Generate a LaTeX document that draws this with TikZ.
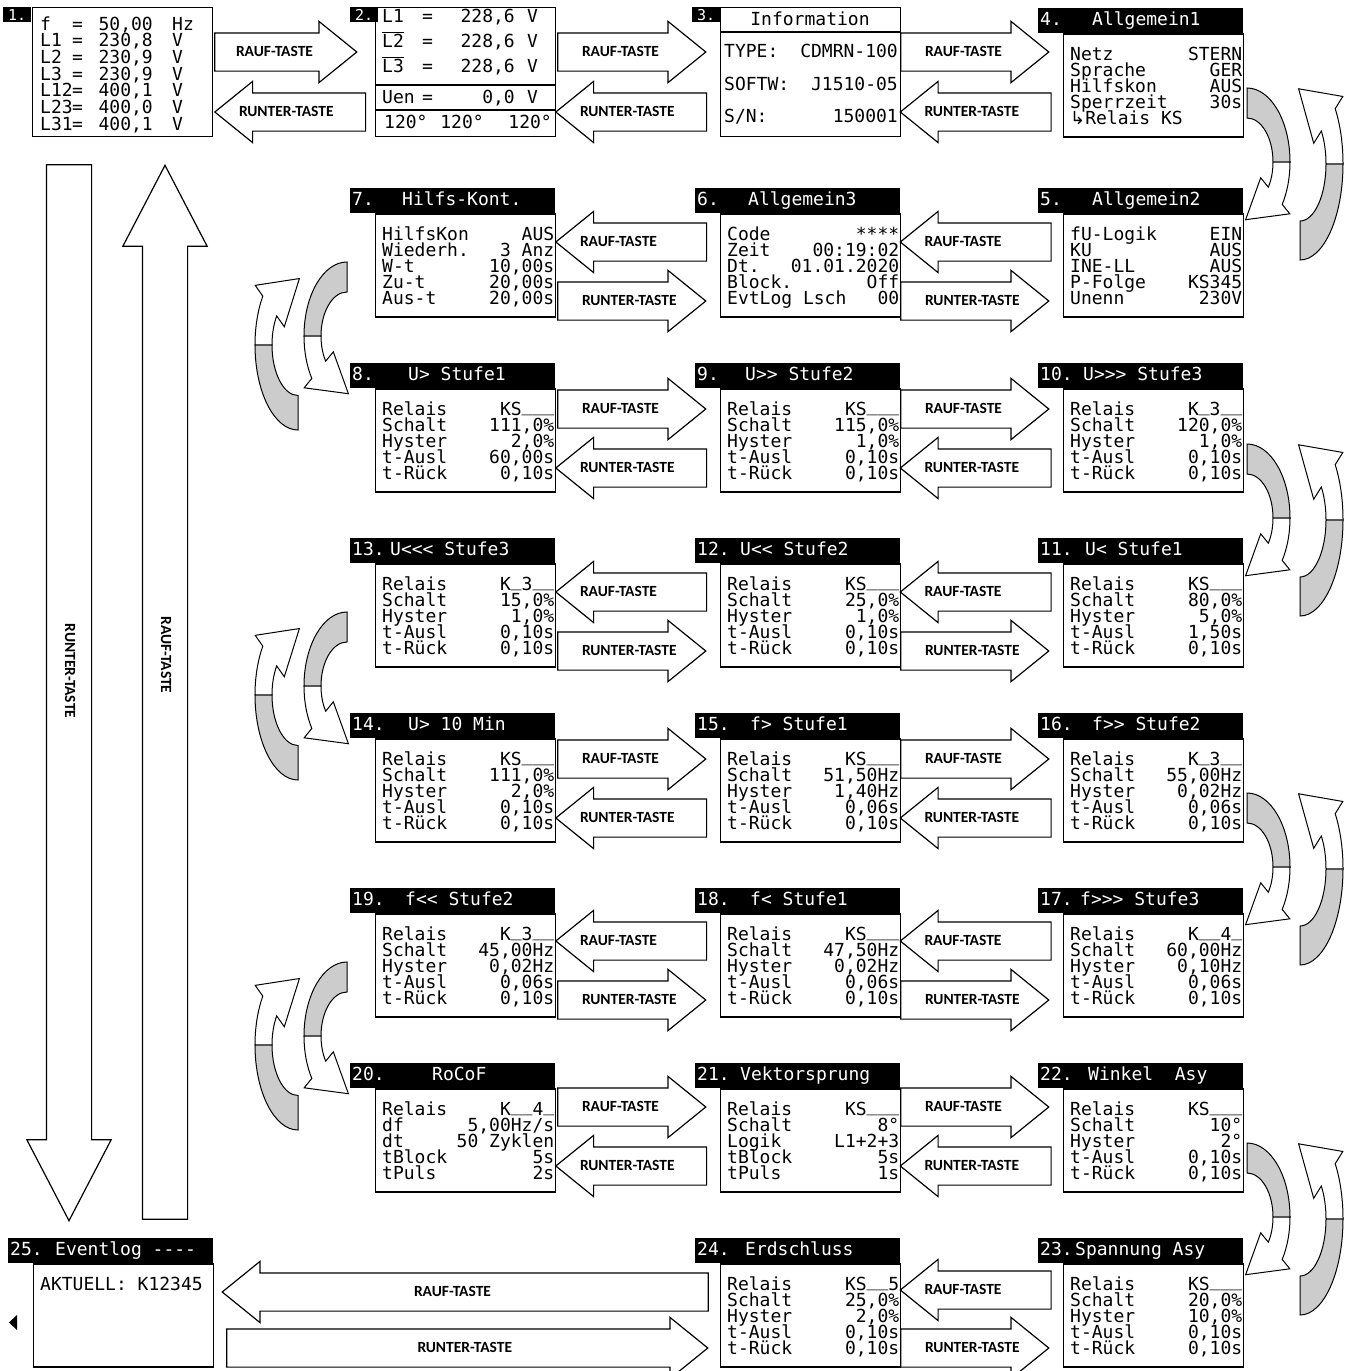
\documentclass[tikz,border=0pt]{standalone}
\usepackage{fontspec}
\newfontfamily\lcdfont{DejaVu Sans Mono}
\newfontfamily\symbfont{DejaVu Sans}
\newfontfamily\tastefont{Carlito}
\usetikzlibrary{shapes.arrows, calc}
\frenchspacing
\newcommand\us{\raisebox{3.5pt}{\_}}
\newcommand\tright[1]{\makebox[76pt][l]{#1}}
\newcommand\tleft[1]{\makebox[126pt][l]{#1}}

% LCD screen with title bar: name, x, y, number, title offset, title, rows
\newcommand\lcdscreen[7]{%
  \node[titlebar] (#1t) at (#2,#3) {};
  \node[lcdhead] (#1n) at ($(#1t.west)+(2,0)$) {#4};
  \node[lcdhead] (#1h) at ($(#1t.west)+(#5,0)$) {#6};
  \node[lcdbody] (#1) at ($(#1t.south west)+(25,0)$) {};
  \foreach \rlab/\rval [count=\i] in {#7} {
    \node[lcdtext, anchor=west] (#1l\i) at ($(#1.north west)+(7,{6+16*\i})$) {\rlab};
    \node[lcdtext, anchor=east] (#1v\i) at ($(#1.north east)+(-2,{6+16*\i})$) {\rval};
  }%
}

\begin{document}
\begin{tikzpicture}
  [x=1pt, y=-1pt,
   titlebar/.style={anchor=north west, fill=black, minimum width=205pt, minimum height=25pt, inner sep=0pt},
   lcdbody/.style={anchor=north west, draw, line width=1.4pt, minimum width=180pt, minimum height=103pt, inner sep=0pt},
   lcdtext/.style={font=\lcdfont\fontsize{18}{16}\selectfont, inner sep=0pt, text height=13pt, text depth=3pt},
   lcdhead/.style={lcdtext, text=white, anchor=west},
   numbox/.style={anchor=north west, fill=black, text=white, minimum width=28pt, minimum height=15pt, inner sep=0pt,
                  font=\lcdfont\fontsize{15}{15}\selectfont, text height=11pt, text depth=0pt},
   taste/.style={single arrow, draw, line width=1.2pt, fill=white, minimum width=60pt, single arrow head extend=11.5pt,
                 single arrow tip angle=78, inner xsep=0pt, inner ysep=11.5pt, text height=11pt, text depth=3pt,
                 font=\tastefont\bfseries\fontsize{15.5}{16}\selectfont},
   tasteleft/.style={taste, shape border rotate=180},
   bigtaste/.style={taste, minimum width=83pt, inner ysep=15pt, single arrow head extend=19.5pt, single arrow tip angle=55},
   bend/.pic={
     \filldraw[fill=black!20, line width=1pt] (0,0) .. controls (23.7,0) and (43,33.1) .. (43,74)
       -- (26,74) .. controls (26,49.7) and (14.4,30) .. (0,30) -- cycle;
     \filldraw[fill=white, line width=1pt] (43,74) .. controls (43,89.2) and (40.3,104) .. (35.2,116.4)
       -- (42.8,125.8) -- (-1.4,131.7) -- (13.7,89.8) -- (21.3,99.2)
       .. controls (24.4,91.8) and (26,83) .. (26,74) -- cycle;
   }]
  \useasboundingbox (0,0) rectangle (1347,1371);

  % screen 1
  \node[numbox] (s1n) at (3,7) {1.};
  \node[lcdbody, minimum height=129pt] (s1) at (32,7) {};
  \foreach \nm/\wert/\unit [count=\i] in {f/{50,00}/Hz, L1/{230,8}/V, L2/{230,9}/V, L3/{230,9}/V,
                                          L12/{400,1}/V, L23/{400,0}/V, L31/{400,1}/V} {
    \node[lcdtext, anchor=west] (s1a\i) at (40,{25+16.7*(\i-1)}) {\nm};
    \node[lcdtext, anchor=west] (s1b\i) at (72,{25+16.7*(\i-1)}) {=};
    \node[lcdtext, anchor=east] (s1c\i) at (153,{25+16.7*(\i-1)}) {\wert};
    \node[lcdtext, anchor=west] (s1d\i) at (172,{25+16.7*(\i-1)}) {\unit};
  }

  % screen 2
  \node[numbox] (s2n) at (350,7) {2.};
  \node[lcdbody, minimum height=129pt] (s2) at (375,7) {};
  \draw[line width=1.4pt] ($(s2.north west)+(0,78)$) -- ($(s2.north east)+(0,78)$);
  \draw[line width=1.4pt] ($(s2.north west)+(0,103)$) -- ($(s2.north east)+(0,103)$);
  \foreach \nm/\wert/\yy [count=\i] in {{\(\overline{\mbox{L1}}\)}/{228,6}/17, {\(\overline{\mbox{L2}}\)}/{228,6}/42,
                                        {\(\overline{\mbox{L3}}\)}/{228,6}/67, Uen/{0,0}/98} {
    \node[lcdtext, anchor=west] (s2a\i) at (382,\yy) {\nm};
    \node[lcdtext, anchor=west] (s2b\i) at (422,\yy) {=};
    \node[lcdtext, anchor=east] (s2c\i) at (515,\yy) {\wert};
    \node[lcdtext, anchor=west] (s2d\i) at (527,\yy) {V};
  }
  \node[lcdtext, anchor=west] (s2w1) at (384,123) {120°};
  \node[lcdtext] (s2w2) at (462,123) {120°};
  \node[lcdtext, anchor=east] (s2w3) at (552,123) {120°};

  % screen 3
  \node[numbox] (s3n) at (692,7) {3.};
  \node[lcdbody, minimum height=129pt] (s3) at (720,7) {};
  \draw[line width=1.4pt] ($(s3.north west)+(0,25)$) -- ($(s3.north east)+(0,25)$);
  \node[lcdtext] (s3h) at (810,20) {Information};
  \foreach \nm/\wert/\yy [count=\i] in {TYPE:/CDMRN-100/52, SOFTW:/J1510-05/85, S\slash N:/150001/117} {
    \node[lcdtext, anchor=west] (s3a\i) at (724,\yy) {\nm};
    \node[lcdtext, anchor=east] (s3b\i) at (898,\yy) {\wert};
  }

  % screens with title bar
  \lcdscreen{s4}{1038}{8}{4.}{54}{Allgemein1}{Netz/STERN, Sprache/GER, Hilfskon/AUS, Sperrzeit/30s, {{\symbfont ↳}Relais KS}/{}}
  \lcdscreen{s5}{1038}{188}{5.}{54}{Allgemein2}{fU-Logik/EIN, KU/AUS, INE-LL/AUS, P-Folge/KS345, Unenn/230V}
  \lcdscreen{s6}{695}{188}{6.}{53}{Allgemein3}{Code/****, Zeit/00:19:02, Dt./01.01.2020, Block./Off, EvtLog Lsch/00}
  \lcdscreen{s7}{350}{188}{7.}{52}{Hilfs-Kont.}{HilfsKon/AUS, Wiederh./3 Anz, W-t/{10,00s}, Zu-t/{20,00s}, Aus-t/{20,00s}}
  \lcdscreen{s8}{350}{363}{8.}{58}{U> Stufe1}{Relais/KS\us\us\us, Schalt/{111,0\%}, Hyster/{2,0\%}, t-Ausl/{60,00s}, t-Rück/{0,10s}}
  \lcdscreen{s9}{695}{363}{9.}{50}{U>> Stufe2}{Relais/KS\us\us\us, Schalt/{115,0\%}, Hyster/{1,0\%}, t-Ausl/{0,10s}, t-Rück/{0,10s}}
  \lcdscreen{s10}{1038}{363}{10.}{45}{U>>> Stufe3}{Relais/K\us3\us\us, Schalt/{120,0\%}, Hyster/{1,0\%}, t-Ausl/{0,10s}, t-Rück/{0,10s}}
  \lcdscreen{s11}{1038}{538}{11.}{47}{U< Stufe1}{Relais/KS\us\us\us, Schalt/{80,0\%}, Hyster/{5,0\%}, t-Ausl/{1,50s}, t-Rück/{0,10s}}
  \lcdscreen{s12}{695}{538}{12.}{45}{U<< Stufe2}{Relais/KS\us\us\us, Schalt/{25,0\%}, Hyster/{1,0\%}, t-Ausl/{0,10s}, t-Rück/{0,10s}}
  \lcdscreen{s13}{350}{538}{13.}{40}{U<<< Stufe3}{Relais/K\us3\us\us, Schalt/{15,0\%}, Hyster/{1,0\%}, t-Ausl/{0,10s}, t-Rück/{0,10s}}
  \lcdscreen{s14}{350}{713}{14.}{58}{U> 10 Min}{Relais/KS\us\us\us, Schalt/{111,0\%}, Hyster/{2,0\%}, t-Ausl/{0,10s}, t-Rück/{0,10s}}
  \lcdscreen{s15}{695}{713}{15.}{55}{f> Stufe1}{Relais/KS\us\us\us, Schalt/{51,50Hz}, Hyster/{1,40Hz}, t-Ausl/{0,06s}, t-Rück/{0,10s}}
  \lcdscreen{s16}{1038}{713}{16.}{54}{f>> Stufe2}{Relais/K\us3\us\us, Schalt/{55,00Hz}, Hyster/{0,02Hz}, t-Ausl/{0,06s}, t-Rück/{0,10s}}
  \lcdscreen{s17}{1038}{888}{17.}{42}{f>>> Stufe3}{Relais/K\us\us4\us, Schalt/{60,00Hz}, Hyster/{0,10Hz}, t-Ausl/{0,06s}, t-Rück/{0,10s}}
  \lcdscreen{s18}{695}{888}{18.}{55}{f< Stufe1}{Relais/KS\us\us\us, Schalt/{47,50Hz}, Hyster/{0,02Hz}, t-Ausl/{0,06s}, t-Rück/{0,10s}}
  \lcdscreen{s19}{350}{888}{19.}{55}{f<< Stufe2}{Relais/K\us3\us\us, Schalt/{45,00Hz}, Hyster/{0,02Hz}, t-Ausl/{0,06s}, t-Rück/{0,10s}}
  \lcdscreen{s20}{350}{1063}{20.}{82}{RoCoF}{Relais/K\us\us4\us, df/{5,00Hz/s}, dt/50 Zyklen, tBlock/5s, tPuls/2s}
  \lcdscreen{s21}{695}{1063}{21.}{45}{Vektorsprung}{Relais/KS\us\us\us, Schalt/8°, Logik/L1+2+3, tBlock/5s, tPuls/1s}
  \lcdscreen{s22}{1038}{1063}{22.}{50}{Winkel~~Asy}{Relais/KS\us\us\us, Schalt/10°, Hyster/2°, t-Ausl/{0,10s}, t-Rück/{0,10s}}
  \lcdscreen{s23}{1038}{1238}{23.}{37}{Spannung Asy}{Relais/KS\us\us\us, Schalt/{20,0\%}, Hyster/{10,0\%}, t-Ausl/{0,10s}, t-Rück/{0,10s}}
  \lcdscreen{s24}{695}{1238}{24.}{50}{Erdschluss}{Relais/KS\us\us5, Schalt/{25,0\%}, Hyster/{2,0\%}, t-Ausl/{0,10s}, t-Rück/{0,10s}}
  \lcdscreen{s25}{8}{1238}{25.}{47}{Eventlog ----}{{AKTUELL: K12345}/{}}
  \fill (17,1315) -- (17,1330) -- (9,1322.5) -- cycle;

  % key arrows, rows running right
  \node[taste, minimum height=142pt] (rauf-52-274) at (274,52) {\tright{RAUF-TASTE}};
  \node[tasteleft, minimum height=146pt] (runter-112-302) at (302,112) {\tleft{RUNTER-TASTE}};
  \foreach \ya/\yb in {52/112, 409/468, 759/818, 1107/1166}
    \foreach \xr/\xl in {620/643, 963/987.5} {
      \node[taste, minimum height=148pt] (rauf-\ya-\xr) at (\xr,\ya) {\tright{RAUF-TASTE}};
      \node[tasteleft, minimum height=146pt] (runter-\yb-\xl) at (\xl,\yb) {\tleft{RUNTER-TASTE}};
    }
  % rows running left
  \foreach \ya/\yb in {242/301, 592/651, 941/1000}
    \foreach \xr/\xl in {620/643, 963/987.5} {
      \node[tasteleft, minimum height=146pt] (rauf-\ya-\xl) at (\xl,\ya) {\tleft{RAUF-TASTE}};
      \node[taste, minimum height=148pt] (runter-\yb-\xr) at (\xr,\yb) {\tright{RUNTER-TASTE}};
    }
  \node[tasteleft, minimum height=146pt] (rauf-1290-987) at (987.5,1290) {\tleft{RAUF-TASTE}};
  \node[taste, minimum height=148pt] (runter-1348-963) at (963,1348) {\tright{RUNTER-TASTE}};
  \node[tasteleft, minimum height=486pt] (rauf-long) at (477,1292) {\tleft{RAUF-TASTE}};
  \node[taste, minimum height=481pt] (runter-long) at (455.5,1348) {\tright{RUNTER-TASTE}};

  % long arrows on the left
  \node[bigtaste, minimum height=1056pt, rotate=-90] (runter-big) at (69,671) {RUNTER-TASTE};
  \node[bigtaste, shape border rotate=180, minimum height=1054pt, rotate=-90] (rauf-big) at (165,714) {RAUF-TASTE\hspace*{118pt}};

  % bent arrows between rows
  \foreach \s in {0,356,705,1055} {
    \pic (bdown\s) at (1247,88+\s) {bend};
    \pic[yscale=-1.3] (bup\s) at (1300,260+\s) {bend};
  }
  \foreach \s in {0,350,700} {
    \pic[xscale=-1] (ldown\s) at (347,262+\s) {bend};
    \pic[xscale=-1, yscale=-1.15] (lup\s) at (298,430+\s) {bend};
  }
\end{tikzpicture}
\end{document}
